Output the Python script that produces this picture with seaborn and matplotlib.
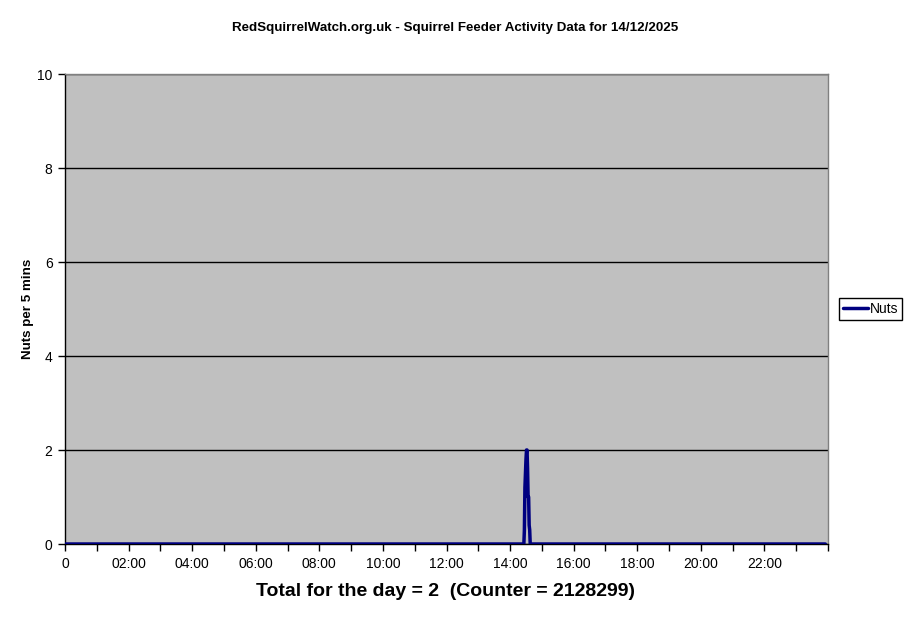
import numpy as np
import pandas as pd
import matplotlib
matplotlib.use("Agg")
import matplotlib.pyplot as plt
import seaborn as sns

# ---- data ----
# 5-minute slots through the day (minutes since midnight), all zero except the spike
base_minutes = list(range(0, 1440, 5))
base_values = [0.0] * len(base_minutes)
# spike around 14:30 (minutes since midnight, nuts per 5 mins)
spike_minutes = [866, 867, 868, 869, 870, 871, 872, 873, 874, 875, 876, 877, 878]
spike_values = [0.0, 0.3, 1.2, 1.5, 1.8, 2.0, 2.0, 1.6, 1.0, 1.0, 0.4, 0.3, 0.0]

title = "RedSquirrelWatch.org.uk - Squirrel Feeder Activity Data for 14/12/2025"
xlabel = "Total for the day = 2  (Counter = 2128299)"
ylabel = "Nuts per 5 mins"
series_name = "Nuts"
hour_ticks = list(range(0, 25))
hour_labels = ["0"] + [f"{h:02d}:00" if h % 2 == 0 and h < 24 else "" for h in range(1, 25)]
y_ticks = [0, 2, 4, 6, 8, 10]

d = {}
for m, v in zip(base_minutes, base_values):
    d[m] = v
for m, v in zip(spike_minutes, spike_values):
    d[m] = v
mins = sorted(d)
df = pd.DataFrame({"minute": mins, "value": [d[m] for m in mins], "series": series_name})

sns.set_theme(style="white")
plt.rcParams["font.family"] = ["Liberation Sans", "DejaVu Sans"]
plt.rcParams["text.color"] = "black"
plt.rcParams["xtick.color"] = "black"
plt.rcParams["ytick.color"] = "black"

fig = plt.figure(figsize=(9.11, 6.23), dpi=100)
W, H = 911, 623
ax = fig.add_axes([65 / W, (H - 544) / H, 763 / W, 470 / H])
ax.set_facecolor("#C0C0C0")

sns.lineplot(data=df, x="minute", y="value", hue="series", palette=["#000080"],
             linewidth=2.5, ax=ax, legend=True, zorder=3)

ax.set_xlim(0, 1440)
ax.set_ylim(0, 10)
ax.set_yticks(y_ticks)
ax.set_yticklabels([str(v) for v in y_ticks], fontsize=10)
ax.set_xticks([h * 60 for h in hour_ticks])
ax.set_xticklabels(hour_labels, fontsize=10)
ax.tick_params(axis="both", direction="out", length=5, width=1, color="black",
               bottom=True, left=True, labelcolor="black")
ax.tick_params(axis="x", pad=4.5)
ax.tick_params(axis="y", pad=4)
ax.yaxis.grid(True, color="black", linewidth=1)
ax.xaxis.grid(False)
ax.set_axisbelow(True)

for s in ["top", "right"]:
    ax.spines[s].set_color("#808080")
    ax.spines[s].set_linewidth(1)
for s in ["left", "bottom"]:
    ax.spines[s].set_color("black")
    ax.spines[s].set_linewidth(1)

ax.set_xlabel("")
ax.set_ylabel("")
fig.text(455 / W, 1 - 28 / H, title, ha="center", va="center", fontsize=9.6,
         fontweight="bold", color="black")
fig.text(446 / W, 1 - 591 / H, xlabel, ha="center", va="center", fontsize=14,
         fontweight="bold", color="black")
fig.text(28 / W, 1 - 309 / H, ylabel, ha="center", va="center", rotation=90,
         fontsize=9.6, fontweight="bold", color="black")

leg = ax.legend(loc="center left", bbox_to_anchor=(839 / W, 1 - 309 / H),
                bbox_transform=fig.transFigure, frameon=True, fancybox=False,
                fontsize=10, handlelength=1.8, handletextpad=0.1, borderpad=0.3,
                borderaxespad=0)
leg.get_frame().set_edgecolor("black")
leg.get_frame().set_linewidth(1)
leg.get_frame().set_facecolor("white")
leg.get_frame().set_alpha(1)
leg.set_title(None)

fig.savefig("out.png", dpi=100, facecolor="white")
